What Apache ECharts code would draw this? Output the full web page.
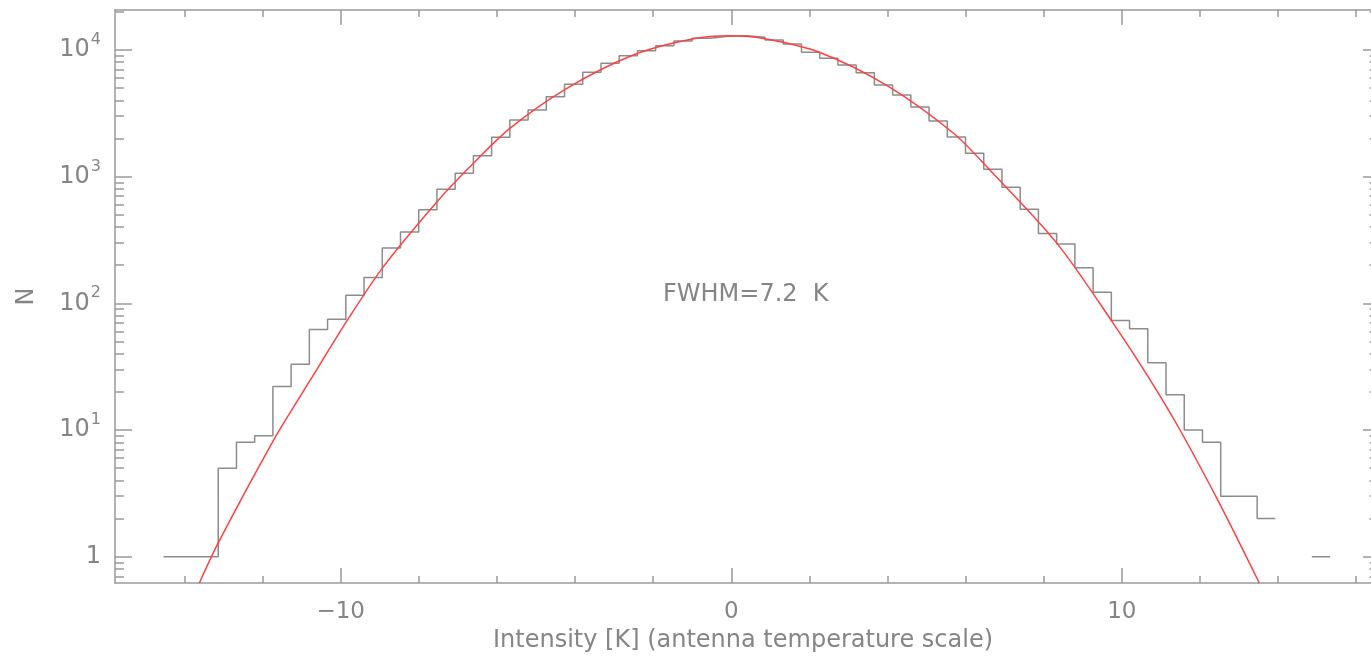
<!DOCTYPE html>
<html>
<head>
<meta charset="utf-8">
<title>Intensity histogram</title>
<script src="https://cdn.jsdelivr.net/npm/echarts@6.0.0/dist/echarts.min.js"></script>
<style>
  html, body { margin: 0; padding: 0; background: #fff; }
  #chart { width: 1371px; height: 658px; }
</style>
</head>
<body>
<div id="chart"></div>
<script>
// histogram bins (K): equal width, first bin starts at binStart
const binStart = -14.537;
const binWidth = 0.4667;
const binCounts = [
  1, 1, 1, 5, 8, 9, 22, 33, 62, 75, 116, 160, 273, 365, 548, 794,
  1062, 1458, 2042, 2800, 3357, 4277, 5350, 6650, 7830, 8995, 9860, 10800,
  11750, 12340, 12790, 12950, 12570, 11970, 11140, 9570, 8590, 7600, 6610, 5290,
  4400, 3540, 2750, 2050, 1528, 1145, 823, 552, 355, 294, 191, 122,
  73, 63, 34, 19, 10, 8, 3, 3, 2, 0, 0, 1
];

// gaussian fit (red curve)
const fitX = [-13.62, -13.14, -11.73, -11.13, -10.79, -9.85, -8.91, -7.54, -6.73, -5.67, -4.21, -2.51, -0.97,
  -0.03, 0.9, 2.27, 3.98, 5.69, 6.62, 8.33, 9.78, 10.72, 11.49, 12.51, 13.52];
const fitN = [0.62, 1.28, 8.2, 16.6, 24.5, 72, 194, 630, 1162, 2400, 4977, 9120, 12250,
  12950, 12200, 9550, 5250, 2200, 1128, 300, 69.5, 25, 10, 2.6, 0.62];

// axis ticks
const xMajorTicks = [-10, 0, 10];
const xMinorTicks = [-14, -12, -8, -6, -4, -2, 2, 4, 6, 8, 12, 14, 16];
const yMajorTicks = [1, 10, 100, 1000, 10000];
const yMinorTicks = [0.7, 0.8, 0.9,
  2, 3, 4, 5, 6, 7, 8, 9,
  20, 30, 40, 50, 60, 70, 80, 90,
  200, 300, 400, 500, 600, 700, 800, 900,
  2000, 3000, 4000, 5000, 6000, 7000, 8000, 9000,
  20000];

const xMin = -15.78, xMax = 16.38;
const yMin = 0.62, yMax = 20650;

const textColor = '#858585';
const lineColor = '#9a9a9a';
const fontFamily = 'DejaVu Sans';

// step line points: skip empty bins so the line breaks there
const histData = [];
binCounts.forEach((c, i) => {
  if (c <= 0) return;
  const left = binStart + i * binWidth;
  const right = left + binWidth;
  histData.push([left, c]);
  const next = binCounts[i + 1];
  if (!next) {
    histData.push([right, c]);
    histData.push([right, null]);
  }
});

const fitData = fitX.map((x, i) => [x, fitN[i]]);

function xAxisDef(position, ticks, len, withLine, withLabels) {
  return {
    type: 'value',
    position: position,
    min: xMin,
    max: xMax,
    splitLine: { show: false },
    axisLine: { show: withLine, onZero: false, lineStyle: { color: lineColor, width: 1.5 } },
    axisTick: { show: true, inside: true, length: len, customValues: ticks,
      lineStyle: { color: lineColor, width: 1.5 } },
    axisLabel: withLabels ? {
      show: true,
      customValues: ticks,
      margin: 18,
      color: textColor,
      fontFamily: fontFamily,
      fontSize: 23,
      formatter: v => (v < 0 ? '\u2212' + (-v) : String(v))
    } : { show: false }
  };
}

function yAxisDef(position, ticks, len, withLine, withLabels) {
  return {
    type: 'log',
    logBase: 10,
    position: position,
    min: yMin,
    max: yMax,
    splitLine: { show: false },
    axisLine: { show: withLine, onZero: false, lineStyle: { color: lineColor, width: 1.5 } },
    axisTick: { show: true, inside: true, length: len, customValues: ticks,
      lineStyle: { color: lineColor, width: 1.5 } },
    axisLabel: withLabels ? {
      show: true,
      customValues: ticks,
      margin: 14,
      color: textColor,
      fontFamily: fontFamily,
      formatter: v => {
        const e = Math.round(Math.log10(v));
        return e === 0 ? '{n|1}' : '{n|10}{s|' + e + '}';
      },
      rich: {
        n: { fontSize: 24, color: textColor, fontFamily: fontFamily },
        s: { fontSize: 16, color: textColor, fontFamily: fontFamily, padding: [0, 0, 20, 1] }
      }
    } : { show: false }
  };
}

const chart = echarts.init(document.getElementById('chart'), null, { renderer: 'canvas' });

const xAxes = [
  xAxisDef('bottom', xMajorTicks, 15, true, true),
  xAxisDef('bottom', xMinorTicks, 7, false, false),
  xAxisDef('top', xMajorTicks, 15, true, false),
  xAxisDef('top', xMinorTicks, 7, false, false)
];
xAxes[0].name = 'Intensity [K] (antenna temperature scale)';
xAxes[0].nameLocation = 'middle';
xAxes[0].nameGap = 42;
xAxes[0].nameTextStyle = { color: textColor, fontFamily: fontFamily, fontSize: 24 };

// right frame sits just past the picture edge, so only the tick tips show
const yAxes = [
  yAxisDef('left', yMajorTicks, 17, true, true),
  yAxisDef('left', yMinorTicks, 9, false, false),
  yAxisDef('right', yMajorTicks, 8, false, false),
  yAxisDef('right', yMinorTicks, 1.5, false, false)
];
yAxes[0].name = 'N';
yAxes[0].nameLocation = 'middle';
yAxes[0].nameGap = 76;
yAxes[0].nameRotate = 90;
yAxes[0].nameTextStyle = { color: textColor, fontFamily: fontFamily, fontSize: 24 };

const option = {
  animation: false,
  backgroundColor: '#ffffff',
  grid: { left: 115, top: 10, right: 0, height: 573, containLabel: false },
  xAxis: xAxes,
  yAxis: yAxes,
  graphic: [
    {
      type: 'text',
      left: 663,
      top: 283,
      style: { text: 'FWHM=7.2  K', fill: textColor, font: '24px "DejaVu Sans"' }
    }
  ],
  series: [
    {
      name: 'histogram',
      type: 'line',
      step: 'end',
      data: histData,
      xAxisIndex: 0,
      yAxisIndex: 0,
      showSymbol: false,
      connectNulls: false,
      lineStyle: { color: '#8c8c8c', width: 1.5 },
      z: 2
    },
    {
      name: 'fit',
      type: 'line',
      smooth: 0.3,
      data: fitData,
      xAxisIndex: 0,
      yAxisIndex: 0,
      showSymbol: false,
      lineStyle: { color: '#ff4040', width: 1.5 },
      z: 3
    }
  ]
};

chart.setOption(option);
</script>
</body>
</html>
